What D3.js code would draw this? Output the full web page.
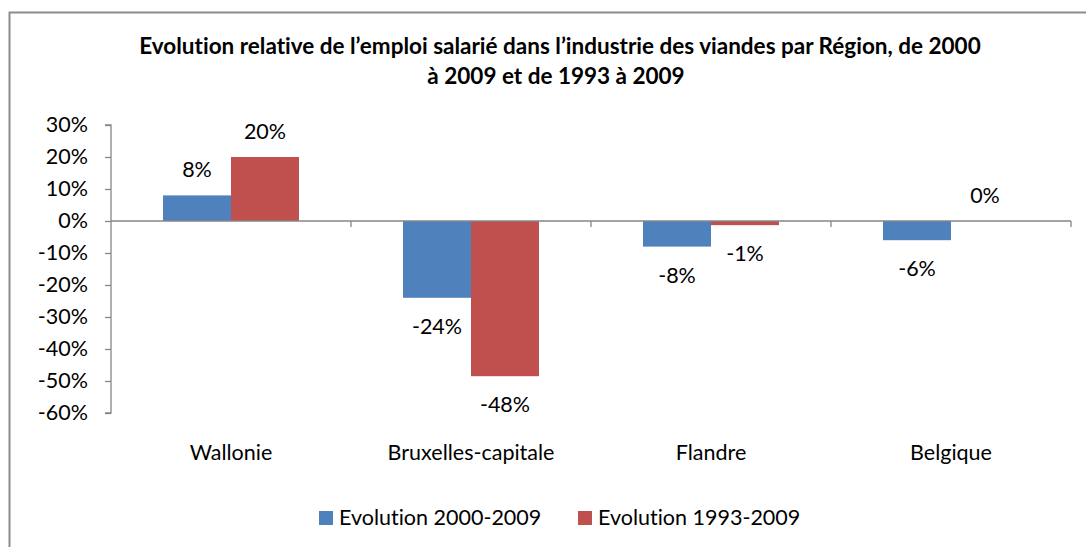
<!DOCTYPE html>
<html lang="fr">
<head>
<meta charset="UTF-8">
<title>Evolution relative de l'emploi salarié</title>
<style>
    body { margin: 0; background: #fff; }
    svg text { font-family: Lato, "Open Sans", sans-serif; fill: #000; font-variant-ligatures: none; }
    .axis path, .axis line { stroke: #868686; stroke-width: 1.3; fill: none; }
    .axis text { font-size: 21.5px; }
</style>
</head>
<body>
<div id="chart"></div>
<script src="https://cdnjs.cloudflare.com/ajax/libs/d3/7.8.5/d3.min.js"></script>
<script>
// data
var regions = ["Wallonie", "Bruxelles-capitale", "Flandre", "Belgique"];
var seriesNames = ["Evolution 2000-2009", "Evolution 1993-2009"];
var evol2000 = [0.08, -0.24, -0.08, -0.06];
var evol1993 = [0.20, -0.485, -0.013, 0.0];
var labels2000 = ["8%", "-24%", "-8%", "-6%"];
var labels1993 = ["20%", "-48%", "-1%", "0%"];
var yTicks = [0.3, 0.2, 0.1, 0, -0.1, -0.2, -0.3, -0.4, -0.5, -0.6];
var titleLines = [
    "Evolution relative de l\u2019emploi salarié dans l\u2019industrie des viandes par Région, de 2000",
    "à 2009 et de 1993 à 2009"
];
var colors = ["#4F81BD", "#C0504D"];

var W = 1086, H = 547;
var plot = { left: 111, right: 1071, top: 125, bottom: 413 };
var fs = "21.5px";

var svg = d3.select("#chart").append("svg")
    .attr("width", W)
    .attr("height", H);

// outer chart frame (only top/left visible in the crop)
svg.append("rect")
    .attr("x", 9.5).attr("y", 12.5)
    .attr("width", 1200).attr("height", 700)
    .attr("fill", "none")
    .attr("stroke", "#8c8c8c")
    .attr("stroke-width", 2);

svg.append("g").selectAll("text")
    .data(titleLines)
    .enter().append("text")
    .attr("x", (d, i) => i === 0 ? 560 : 556)
    .attr("y", (d, i) => 54 + i * 30)
    .attr("text-anchor", "middle")
    .style("font-size", "22.5px")
    .style("font-weight", "bold")
    .text(d => d);

var y = d3.scaleLinear().domain([-0.6, 0.3]).range([plot.bottom, plot.top]);
var x0 = d3.scaleBand().domain(regions).range([plot.left, plot.right]);
var x1 = d3.scaleBand().domain(seriesNames).range([0, x0.bandwidth()]).paddingOuter(0.765);

var yAxis = d3.axisLeft(y)
    .tickValues(yTicks)
    .tickSize(6)
    .tickPadding(17)
    .tickFormat(d => Math.round(d * 100) + "%");

var gy = svg.append("g")
    .attr("class", "axis")
    .attr("transform", "translate(" + plot.left + ",0)")
    .call(yAxis);
gy.select(".domain").attr("d", "M-6," + y(0.3) + "H0V" + y(-0.6) + "H-6");

var rows = regions.map((r, i) => ({
    region: r,
    vals: [
        { s: seriesNames[0], v: evol2000[i], label: labels2000[i], c: colors[0] },
        { s: seriesNames[1], v: evol1993[i], label: labels1993[i], c: colors[1] }
    ]
}));

var groups = svg.append("g").selectAll("g")
    .data(rows)
    .enter().append("g")
    .attr("transform", d => "translate(" + x0(d.region) + ",0)");

groups.selectAll("rect")
    .data(d => d.vals)
    .enter().append("rect")
    .attr("x", d => x1(d.s))
    .attr("width", x1.bandwidth())
    .attr("y", d => y(Math.max(0, d.v)))
    .attr("height", d => Math.abs(y(d.v) - y(0)))
    .attr("fill", d => d.c);

groups.selectAll("text.val")
    .data(d => d.vals)
    .enter().append("text")
    .attr("class", "val")
    .attr("x", d => x1(d.s) + x1.bandwidth() / 2)
    .attr("y", d => d.v >= 0 ? y(d.v) - 18 : y(d.v) + 36)
    .attr("text-anchor", "middle")
    .style("font-size", fs)
    .text(d => d.label);

// category axis drawn through zero
var xAxis = d3.axisBottom(x0).tickSize(0).tickFormat("");
var gx = svg.append("g")
    .attr("class", "axis")
    .attr("transform", "translate(0," + y(0) + ")")
    .call(xAxis);
gx.select(".domain").attr("d", "M" + plot.left + ",0H" + plot.right);
var bounds = regions.map(r => x0(r) + x0.bandwidth());
gx.selectAll("line.sep")
    .data(bounds)
    .enter().append("line")
    .attr("class", "sep")
    .attr("x1", d => d).attr("x2", d => d)
    .attr("y1", 0).attr("y2", 6);

svg.append("g").selectAll("text")
    .data(regions)
    .enter().append("text")
    .attr("x", d => x0(d) + x0.bandwidth() / 2)
    .attr("y", 460)
    .attr("text-anchor", "middle")
    .style("font-size", fs)
    .text(d => d);

// legend
var legendX = [319, 578];
var lg = svg.append("g").selectAll("g")
    .data(seriesNames)
    .enter().append("g")
    .attr("transform", (d, i) => "translate(" + legendX[i] + ",511)");
lg.append("rect")
    .attr("width", 14).attr("height", 14)
    .attr("fill", (d, i) => colors[i]);
lg.append("text")
    .attr("x", 20).attr("y", 14)
    .style("font-size", fs)
    .text(d => d);
</script>
</body>
</html>
